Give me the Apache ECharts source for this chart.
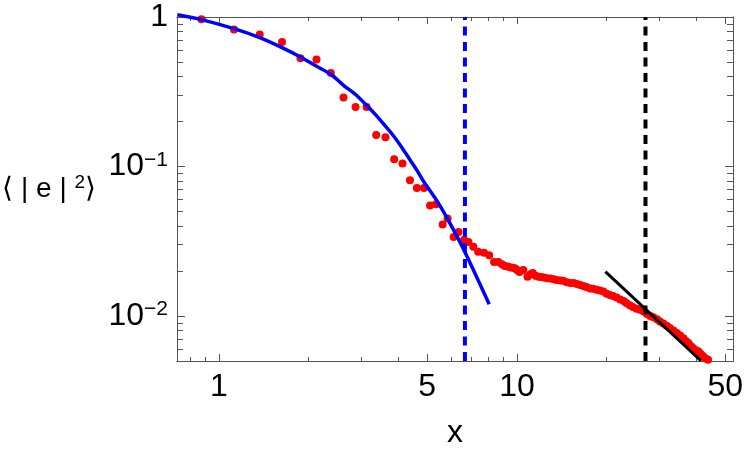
<!DOCTYPE html>
<html>
<head>
<meta charset="utf-8">
<script src="https://cdn.jsdelivr.net/npm/echarts@6/dist/echarts.min.js"></script>
<style>html,body{margin:0;padding:0;background:#fff}#c{width:747px;height:451px}</style>
</head>
<body>
<div id="c"></div>
<script>
// ---- data ----
const redX = [0.873,1.123,1.370,1.628,1.877,2.125,2.373,2.618,2.873,3.128,3.37,3.62,3.873,4.13,4.375,4.614,4.875,
  5.11,5.35,5.63,5.85,6.13,6.37,6.64,6.87,7.14,7.41,7.75,8.07,8.38,8.66,8.9,9.1,9.3,9.48,9.66,9.84,10.0,10.2,10.5,
  10.85,11.1,11.3,11.55,11.8,12.05,12.3,12.6,12.95,13.3,13.6,14.0,14.3,14.7,15.1,15.5,15.9,16.3,16.7,17.1,17.6,18.0,
  18.5,19.0,19.5,20.0,20.5,21.0,21.6,22.2,22.8,23.3,23.9,24.5,25.2,25.9,26.6,27.3,28.0,28.7,29.5,30.2,31.0,31.8,32.6,
  33.5,34.4,35.3,36.2,36.9,37.6,38.3,39.0,39.8,40.6,41.3,42.1,43.0,43.8,44.6];
const redY = [0.965,0.824,0.763,0.681,0.530,0.519,0.422,0.289,0.250,0.250,0.1626,0.157,0.112,0.1047,0.081,0.0719,0.0719,
  0.0549,0.0560,0.0409,0.0449,0.0338,0.0364,0.0322,0.0313,0.0290,0.0269,0.0265,0.0255,0.0230,0.0230,0.0222,0.0216,0.0214,0.0212,0.0210,0.0209,0.0203,0.0197,0.0203,
  0.0183,0.0190,0.0194,0.0186,0.0183,0.0182,0.0181,0.0179,0.0178,0.0176,0.0174,0.0173,0.0172,0.0168,0.0166,0.0166,0.0164,0.0161,0.0159,0.0156,0.0153,0.0152,
  0.0150,0.0148,0.0146,0.0141,0.0138,0.0136,0.0133,0.0129,0.0126,0.0122,0.0118,0.0115,0.0112,0.0110,0.0107,0.0103,0.0100,0.0098,0.0095,0.0092,0.0089,0.0086,0.0083,
  0.0080,0.0077,0.0074,0.0071,0.0068,0.0066,0.0063,0.0061,0.0059,0.0058,0.0056,0.0054,0.0052,0.0051,0.0049];
const blueX = [0.725,0.873,1.123,1.370,1.628,1.877,2.125,2.373,2.618,2.873,3.128,3.37,3.62,3.873,4.13,4.375,4.614,4.875,5.37,5.8,6.6,8.07];
const blueY = [1.035,0.961,0.836,0.728,0.624,0.540,0.468,0.414,0.349,0.303,0.257,0.220,0.186,0.158,0.132,0.111,0.0945,0.0788,0.0596,0.046,0.0283,0.0120];
const blackX = [19.8, 41.5];
const blackY = [0.0198, 0.0050];
const blueDashX = 6.69;
const blackDashX = 27.0;
const xRange = [0.723, 53.1];
const yRange = [0.005, 1];
const xMajor = [1, 5, 10, 50];
const xMinor = [0.8, 0.9, 2, 3, 4, 6, 7, 8, 9, 20, 30, 40];
const yMajor = [0.01, 0.1, 1];
const yMinor = [0.006,0.007,0.008,0.009,0.02,0.03,0.04,0.05,0.06,0.07,0.08,0.09,0.2,0.3,0.4,0.5,0.6,0.7,0.8,0.9];
const xName = 'x';

const zip = (a, b) => a.map((v, i) => [v, b[i]]);
const FONT = 'Liberation Sans';
const TICK = '#555';

function xAxisDef(pos, ticks, len, labels) {
  return {
    type: 'log', logBase: 10, min: xRange[0], max: xRange[1], position: pos,
    axisLine: { show: true, onZero: false, lineStyle: { color: TICK, width: 1 } },
    splitLine: { show: false },
    axisTick: { show: true, inside: true, length: len, customValues: ticks, lineStyle: { color: TICK, width: 1 } },
    axisLabel: labels ? {
      show: true, customValues: xMajor, margin: 10, color: '#000', fontFamily: FONT, fontSize: 32,
      formatter: v => String(Math.round(v))
    } : { show: false },
    name: labels ? xName : '', nameLocation: 'middle', nameGap: 56,
    nameTextStyle: { color: '#000', fontFamily: FONT, fontSize: 32 }
  };
}
function yAxisDef(pos, ticks, len, labels) {
  return {
    type: 'log', logBase: 10, min: yRange[0], max: yRange[1], position: pos,
    axisLine: { show: true, onZero: false, lineStyle: { color: TICK, width: 1 } },
    splitLine: { show: false },
    axisTick: { show: true, inside: true, length: len, customValues: ticks, lineStyle: { color: TICK, width: 1 } },
    axisLabel: labels ? {
      show: true, customValues: yMajor, margin: 9, color: '#000', fontFamily: FONT,
      formatter: v => {
        const e = Math.round(Math.log10(v));
        return e === 0 ? '{b|1}' : '{b|10}{s|\u2212' + (-e) + '}';
      },
      rich: {
        b: { fontSize: 32, fontFamily: FONT, color: '#000', lineHeight: 34 },
        s: { fontSize: 21, fontFamily: FONT, color: '#000', lineHeight: 21, verticalAlign: 'top' }
      }
    } : { show: false },
    name: labels ? '{n|\u27E8 | e | }{s|2}{n|\u27E9}' : '',
    nameLocation: 'middle', nameRotate: 0, nameGap: 81,
    nameTextStyle: {
      rich: {
        n: { fontSize: 28, fontFamily: FONT, color: '#000', lineHeight: 32 },
        s: { fontSize: 19, fontFamily: FONT, color: '#000', lineHeight: 19, verticalAlign: 'top' }
      }
    }
  };
}

const chart = echarts.init(document.getElementById('c'), null, { renderer: 'canvas' });
chart.setOption({
  animation: false,
  backgroundColor: '#fff',
  grid: { left: 177, right: 14, top: 17, bottom: 90, show: false, containLabel: false, outerBoundsMode: 'none' },
  xAxis: [
    xAxisDef('bottom', xMajor, 7, true),
    xAxisDef('bottom', xMinor, 4, false),
    xAxisDef('top', xMajor, 7, false),
    xAxisDef('top', xMinor, 4, false)
  ],
  yAxis: [
    yAxisDef('left', yMajor, 8, true),
    yAxisDef('left', yMinor, 6, false),
    yAxisDef('right', yMajor, 8, false),
    yAxisDef('right', yMinor, 6, false)
  ],
  series: [
    {
      type: 'scatter', data: zip(redX, redY), symbol: 'circle', symbolSize: 8,
      itemStyle: { color: '#ff0000', opacity: 1 }, clip: true, z: 2
    },
    {
      type: 'line', data: zip(blueX, blueY), showSymbol: false, smooth: 0.3, clip: false,
      lineStyle: { color: '#0000ff', width: 3.5 }, z: 3
    },
    {
      type: 'line', data: [[blueDashX, yRange[0]], [blueDashX, yRange[1]]], showSymbol: false,
      lineStyle: { color: '#0000ff', width: 4, type: [9, 6.5] }, z: 3
    },
    {
      type: 'line', data: [[blackDashX, yRange[0]], [blackDashX, yRange[1]]], showSymbol: false,
      lineStyle: { color: '#000', width: 4, type: [9, 6.5] }, z: 3
    },
    {
      type: 'line', data: zip(blackX, blackY), showSymbol: false, clip: true,
      lineStyle: { color: '#000', width: 3 }, z: 4
    }
  ]
});
</script>
</body>
</html>
